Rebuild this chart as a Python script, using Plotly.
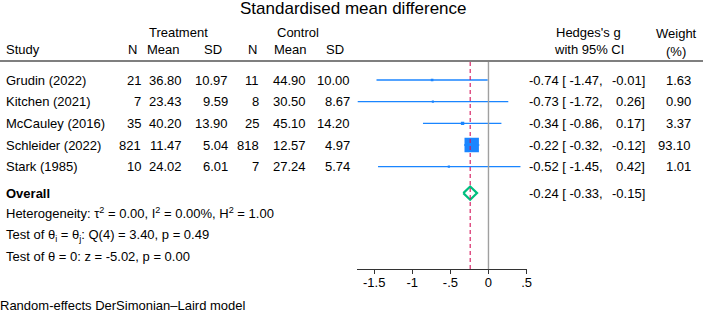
import plotly.graph_objects as go

# ---------------- data ----------------
studies = ["Grudin (2022)", "Kitchen (2021)", "McCauley (2016)", "Schleider (2022)", "Stark (1985)"]
t_n = [21, 7, 35, 821, 10]
t_mean = [36.80, 23.43, 40.20, 11.47, 24.02]
t_sd = [10.97, 9.59, 13.90, 5.04, 6.01]
c_n = [11, 8, 25, 818, 7]
c_mean = [44.90, 30.50, 45.10, 12.57, 27.24]
c_sd = [10.00, 8.67, 14.20, 4.97, 5.74]
g = [-0.74, -0.73, -0.34, -0.22, -0.52]
g_lo = [-1.47, -1.72, -0.86, -0.32, -1.45]
g_hi = [-0.01, 0.26, 0.17, -0.12, 0.42]
weight = [1.63, 0.90, 3.37, 93.10, 1.01]
overall_g, overall_lo, overall_hi = -0.24, -0.33, -0.15
tick_vals = [-1.5, -1, -0.5, 0, 0.5]
tick_text = ["-1.5", "-1", "-.5", "0", ".5"]
het_text = "Heterogeneity: τ<sup>2</sup> = 0.00, I<sup>2</sup> = 0.00%, H<sup>2</sup> = 1.00"
q_text = "Test of θ<sub>i</sub> = θ<sub>j</sub>: Q(4) = 3.40, p = 0.49"
z_text = "Test of θ = 0: z = -5.02, p = 0.00"
model_text = "Random-effects DerSimonian–Laird model"

# ---------------- style ----------------
W, H = 708, 312
FONT = "Liberation Sans, Arial, Helvetica, sans-serif"
BLUE = "#1a85ff"
RED = "#d41159"
GREEN = "#00bf7f"
ROW0, ROWH = 80.0, 21.67     # pixel of first row and row spacing
AXIS_Y = 269.3               # pixel of x-axis line
OVERALL_ROW = 5.22

def px(x):
    return x / W

def py(y):
    return 1 - y / H

def row(ypix):
    return (ypix - ROW0) / ROWH

fig = go.Figure()

# CI lines
xs, ys = [], []
for i in range(len(studies)):
    xs += [g_lo[i], g_hi[i], None]
    ys += [i, i, None]
fig.add_trace(go.Scatter(x=xs, y=ys, mode="lines",
                         line=dict(color=BLUE, width=1.3), hoverinfo="skip"))

# weighted squares
sizes = [13.6 * (w / max(weight)) ** 0.5 + 0.8 for w in weight]
fig.add_trace(go.Scatter(x=g, y=list(range(len(studies))), mode="markers",
                         marker=dict(symbol="square", size=sizes, color=BLUE, opacity=1,
                                     line=dict(width=0)),
                         hoverinfo="skip"))

# overall diamond
hd = 6.6 / ROWH
fig.add_trace(go.Scatter(
    x=[overall_lo, overall_g, overall_hi, overall_g, overall_lo],
    y=[OVERALL_ROW, OVERALL_ROW - hd, OVERALL_ROW, OVERALL_ROW + hd, OVERALL_ROW],
    mode="lines", line=dict(color=GREEN, width=2.2), hoverinfo="skip"))

shapes = [
    # header rule
    dict(type="line", xref="paper", yref="paper", x0=0, x1=1, y0=py(61), y1=py(61),
         line=dict(color="#555555", width=1.4)),
    # no-effect line
    dict(type="line", xref="x", yref="y", x0=0, x1=0, y0=row(62), y1=row(AXIS_Y),
         line=dict(color="#a0a0a0", width=1.4)),
    # overall effect dashed line
    dict(type="line", xref="x", yref="y", x0=overall_g, x1=overall_g, y0=row(62), y1=row(AXIS_Y),
         line=dict(color=RED, width=1.1, dash="4px,3px")),
]

ann = []

def T(text, x, y, anchor="left", size=13, yref="y", color="#000000"):
    ann.append(dict(text=text, x=px(x), y=y, xref="paper", yref=yref,
                    xanchor=anchor, yanchor="middle", showarrow=False,
                    borderpad=0, borderwidth=0,
                    font=dict(family=FONT, size=size, color=color)))

# title & headers
T("Standardised mean difference", 356, py(8), "center", size=17, yref="paper")
T("Treatment", 179.5, py(32.3), "center", yref="paper")
T("Control", 300, py(32.3), "center", yref="paper")
T("Study", 6, py(50), "left", yref="paper")
for lab, cx in [("N", 133), ("Mean", 165), ("SD", 215), ("N", 254.5), ("Mean", 293), ("SD", 337)]:
    T(lab, cx, py(50), "center", yref="paper")
T("Hedges's g", 593, py(32.3), "center", yref="paper")
T("with 95% CI", 593, py(50), "center", yref="paper")
T("Weight", 681, py(33.5), "center", yref="paper")
T("(%)", 681, py(51.5), "center", yref="paper")

# study rows
for i, s in enumerate(studies):
    T(s, 6, i)
    T(f"{t_n[i]}", 141.7, i, "right")
    T(f"{t_mean[i]:.2f}", 183.5, i, "right")
    T(f"{t_sd[i]:.2f}", 229.5, i, "right")
    T(f"{c_n[i]}", 260.7, i, "right")
    T(f"{c_mean[i]:.2f}", 308.3, i, "right")
    T(f"{c_sd[i]:.2f}", 352.7, i, "right")
    T(f"{g[i]:.2f} [ {g_lo[i]:.2f},", 607.5, i, "right")
    T(f"{g_hi[i]:.2f}]", 650, i, "right")
    T(f"{weight[i]:.2f}", 696, i, "right")

T("<b>Overall</b>", 6, OVERALL_ROW)
T(f"{overall_g:.2f} [ {overall_lo:.2f},", 607.5, OVERALL_ROW, "right")
T(f"{overall_hi:.2f}]", 650, OVERALL_ROW, "right")
T(het_text, 6, row(213.3))
T(q_text, 6, row(235))
T(z_text, 6, row(256.7))
T(model_text, 0, py(305), "left", yref="paper")

fig.update_layout(
    width=W, height=H,
    margin=dict(l=0, r=0, t=0, b=0),
    paper_bgcolor="white", plot_bgcolor="white",
    showlegend=False,
    font=dict(family=FONT, size=13, color="#000000"),
    shapes=shapes, annotations=ann,
    xaxis=dict(domain=[px(360), px(530.3)], range=[-1.72, 0.5],
               tickvals=tick_vals, ticktext=tick_text,
               ticks="outside", ticklen=4, tickcolor="#333333", tickwidth=1,
               ticklabelstandoff=-3,
               showline=True, linecolor="#333333", linewidth=1,
               showgrid=False, zeroline=False,
               tickfont=dict(family=FONT, size=13, color="#000000")),
    yaxis=dict(domain=[py(AXIS_Y), 1], range=[row(AXIS_Y), row(0)],
               visible=False, showgrid=False, zeroline=False),
)

fig.write_html("out.html",
               config={"displayModeBar": False},
               post_script="document.body.style.margin='0';document.body.style.overflow='hidden';")
